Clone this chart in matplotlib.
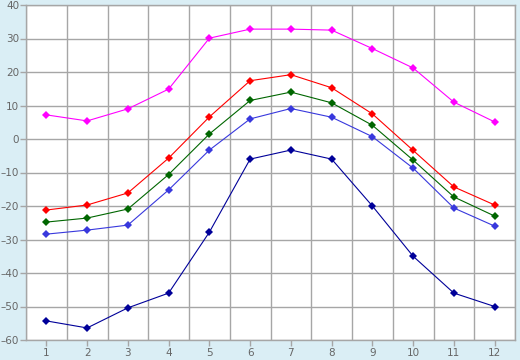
import matplotlib
matplotlib.use("Agg")
from matplotlib import pyplot

months = [1, 2, 3, 4, 5, 6, 7, 8, 9, 10, 11, 12]
record_high = [7.2, 5.4, 9.0, 14.9, 30.1, 32.8, 32.8, 32.5, 27.0, 21.2, 11.0, 5.1]
mean_high = [-21.2, -19.7, -16.1, -5.7, 6.6, 17.4, 19.2, 15.3, 7.5, -3.4, -14.3, -19.7]
mean_daily = [-24.8, -23.6, -20.9, -10.6, 1.5, 11.5, 14.0, 10.8, 4.1, -6.3, -17.3, -23.0]
mean_low = [-28.4, -27.2, -25.7, -15.2, -3.3, 6.0, 9.1, 6.5, 0.7, -8.7, -20.6, -26.0]
record_low = [-54.3, -56.4, -50.4, -46.0, -27.8, -6.0, -3.3, -6.0, -20.0, -35.0, -46.0, -50.0]
y_ticks = [-60, -50, -40, -30, -20, -10, 0, 10, 20, 30, 40]

series = [
    (record_high, "#ff00ff"),
    (mean_high, "#ff0000"),
    (mean_daily, "#006600"),
    (mean_low, "#3838dd"),
    (record_low, "#000099"),
]

grid_color = "#a6a6a6"
text_color = "#666666"

fig = pyplot.figure(figsize=(5.2, 3.6), dpi=100, facecolor="#daeef5")
ax = fig.add_axes([26 / 520, 20 / 360, 489 / 520, 335 / 360])
ax.set_facecolor("white")

for values, color in series:
    ax.plot(months, values, color=color, linewidth=0.8, marker="D",
            markersize=3.8, markeredgewidth=0, zorder=3)

ax.set_xlim(0.5, 12.5)
ax.set_ylim(-60, 40)
ax.set_xticks(months)
ax.set_yticks(y_ticks)
ax.set_yticklabels([str(t).replace("-", "\u2013") for t in y_ticks])
ax.set_xticks([m + 0.5 for m in range(0, 13)], minor=True)
ax.grid(False)
ax.grid(True, which="minor", axis="x", color=grid_color, linewidth=1)
ax.grid(True, which="major", axis="y", color=grid_color, linewidth=1)
ax.tick_params(axis="x", which="minor", length=0)
ax.tick_params(which="major", length=4.3, width=1, color=grid_color,
               labelcolor=text_color, labelsize=7.5, pad=1.5)
ax.tick_params(axis="y", pad=0.5)

for spine in ax.spines.values():
    spine.set_color(grid_color)
    spine.set_linewidth(1)

fig.savefig("out.png", dpi=100, facecolor=fig.get_facecolor())
